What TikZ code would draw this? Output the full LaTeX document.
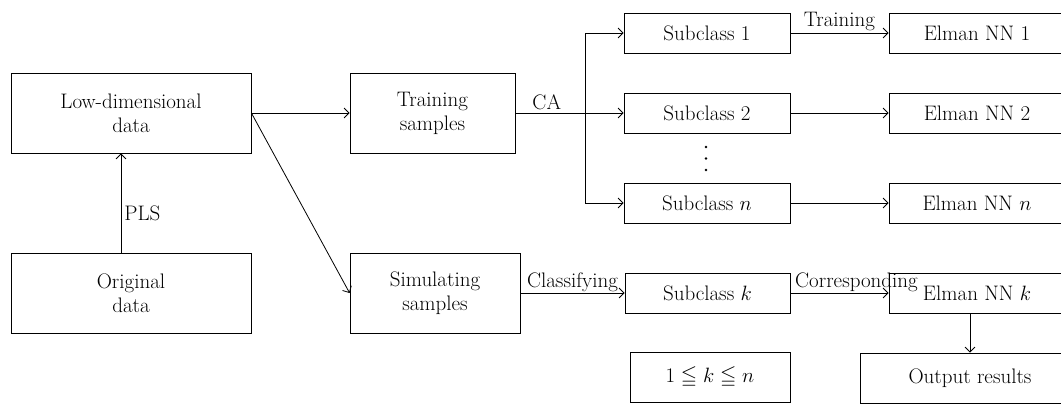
\documentclass[tikz,border=0pt]{standalone}
\usepackage{amssymb}
\usetikzlibrary{arrows.meta}
\begin{document}
\begin{tikzpicture}[x=1pt,y=-1pt,
  every node/.style={font=\fontsize{21}{24}\selectfont},
  box/.style={draw, line width=0.8pt, align=center, inner sep=0pt},
  bigbox/.style={box, minimum height=80pt},
  smallbox/.style={box, minimum height=40pt},
  conn/.style={draw, line width=0.8pt, -{Straight Barb[length=5pt,width=10pt,line width=0.8pt]}},
  lbl/.style={inner sep=2pt},
  dot/.style={circle, fill, inner sep=0pt, minimum size=2.6pt}]
\useasboundingbox (0,0) rectangle (1061,404);
% left column
\node[bigbox, minimum width=240pt] (low) at (131,113) {Low-dimensional\\data};
\node[bigbox, minimum width=240pt] (orig) at (131,293) {Original\\data};
% middle
\node[bigbox, minimum width=165pt] (train) at (432.5,113) {Training\\samples};
\node[bigbox, minimum width=170pt] (sim) at (435,293) {Simulating\\samples};
% subclasses
\node[smallbox, minimum width=166pt] (s1) at (707,33) {Subclass 1};
\node[smallbox, minimum width=166pt] (s2) at (707,113) {Subclass 2};
\node[smallbox, minimum width=166pt] (sn) at (707,203) {Subclass $n$};
\node[smallbox, minimum width=165pt] (sk) at (707.5,293) {Subclass $k$};
\node[box, minimum width=160pt, minimum height=50pt] (range) at (710,377) {$1\leqq k\leqq n$};
\node[dot] (d1) at (706,147) {};
\node[dot] (d2) at (706,158.5) {};
\node[dot] (d3) at (706,170) {};
% Elman
\node[smallbox, minimum width=176pt] (e1) at (977,33) {Elman NN 1};
\node[smallbox, minimum width=176pt] (e2) at (977,113) {Elman NN 2};
\node[smallbox, minimum width=176pt] (en) at (977,203) {Elman NN $n$};
\node[smallbox, minimum width=176pt] (ek) at (977,293) {Elman NN $k$};
\node[box, minimum width=220pt, minimum height=50pt] (out) at (970,378) {Output results};
% connectors
\draw[conn] ([xshift=-10pt]orig.north) -- node[right, inner sep=3pt, pos=0.4] {PLS} ([xshift=-10pt]low.south);
\draw[conn] (low.east) -- (train.west);
\draw[conn] (low.east) -- (sim.west);
\draw[conn] (train.east) -- node[above, inner sep=3pt, pos=0.29] {CA} (s2.west);
\coordinate (br) at (585,113);
\draw[conn] (br) |- (s1.west);
\draw[conn] (br) |- (sn.west);
\draw[conn] (s1.east) -- node[above, lbl] {Training} (e1.west);
\draw[conn] (s2.east) -- (e2.west);
\draw[conn] (sn.east) -- (en.west);
\draw[conn] (sim.east) -- node[above, inner sep=1pt] {Classifying} (sk.west);
\draw[conn] (sk.east) -- node[above, inner sep=1pt, xshift=17pt] {Corresponding} (ek.west);
\draw[conn] (ek.south -| out.north) -- (out.north);
\end{tikzpicture}
\end{document}
